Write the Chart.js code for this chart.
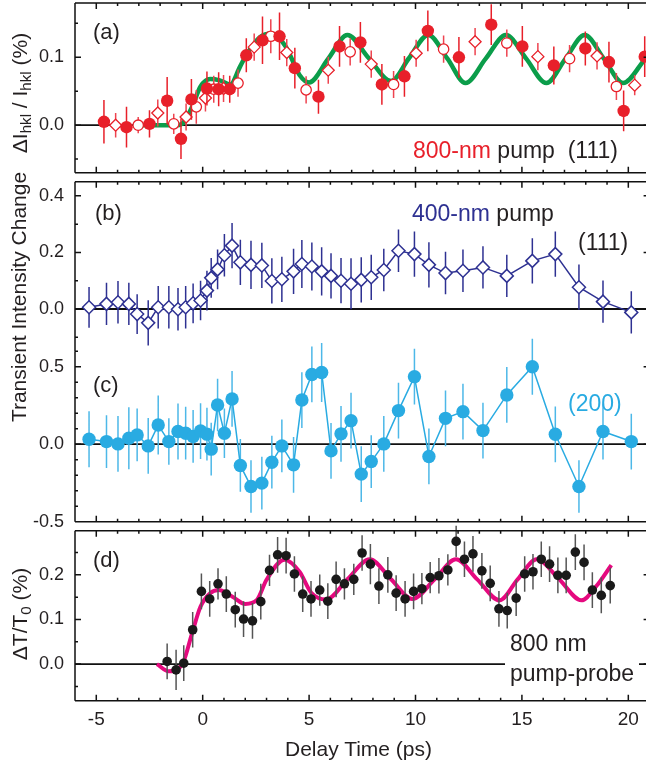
<!DOCTYPE html>
<html>
<head>
<meta charset="utf-8">
<script src="https://cdn.jsdelivr.net/npm/chart.js@4/dist/chart.umd.min.js"></script>
<style>
  html, body { margin: 0; padding: 0; background: #fff; overflow: hidden; }
  #wrap { position: relative; width: 646px; height: 766px; overflow: hidden; }
  canvas { position: absolute; left: 0; }
  .t { position: absolute; font-family: 'Liberation Sans', Arial, sans-serif; font-size: 23px;
       color: #231f20; white-space: nowrap; line-height: 1; transform: translateY(-50%); }
  .t.p { font-size: 22px; }
  .rot { position: absolute; font-family: 'Liberation Sans', Arial, sans-serif; font-size: 21px;
         color: #231f20; white-space: nowrap; line-height: 1; transform: translate(-50%, -50%) rotate(-90deg); }
  .rot sub { font-size: 0.72em; vertical-align: -0.3em; }
  .box { position: absolute; background: #fff; }
</style>
</head>
<body>
<div id="wrap">
  <canvas id="cA" width="650" height="180" style="top:0px"></canvas>
  <canvas id="cB" width="650" height="176" style="top:176px"></canvas>
  <canvas id="cD" width="650" height="242" style="top:524px"></canvas>
  <canvas id="cC" width="650" height="206" style="top:330px"></canvas>

  <div class="rot" style="left:21px; top:93px">ΔI<sub>hkl</sub> / I<sub>hkl</sub> (%)</div>
  <div class="rot" style="left:18px; top:297px">Transient Intensity Change</div>
  <div class="rot" style="left:21px; top:614px">ΔT/T<sub>0</sub> (%)</div>
  <div class="t" style="left:285px; top:748px; font-size:21px">Delay Time (ps)</div>

  <div class="t p" style="left:93px; top:32px">(a)</div>
  <div class="t" style="left:413px; top:150px"><span style="color:#e8202a">800-nm</span> pump&nbsp;&nbsp;(111)</div>
  <div class="t p" style="left:95px; top:213px">(b)</div>
  <div class="t" style="left:412px; top:213px"><span style="color:#2e3192">400-nm</span> pump</div>
  <div class="t" style="left:578px; top:242px">(111)</div>
  <div class="t p" style="left:93px; top:385px">(c)</div>
  <div class="t" style="left:568px; top:403px; color:#29abe2">(200)</div>
  <div class="t p" style="left:93px; top:560px">(d)</div>
  <div class="box" style="left:505px; top:630px; width:134px; height:58px"></div>
  <div class="t" style="left:510px; top:643px">800 nm</div>
  <div class="t" style="left:510px; top:673px">pump-probe</div>
</div>

<script>
// ---- panel (a): 800-nm pump, (111) ----
const aFillT = [-4.64, -3.58, -2.5, -1.67, -1.02, -0.53, 0.2, 0.75, 1.27, 2.05, 2.81, 3.61, 4.33, 5.44, 6.43, 7.41, 8.42, 9.48, 10.58, 12.04, 13.56, 15.02, 16.5, 17.98, 19.09, 19.78, 20.77];
const aFillV = [0.005, -0.003, 0.002, 0.036, -0.02, 0.038, 0.054, 0.053, 0.053, 0.103, 0.125, 0.131, 0.084, 0.042, 0.116, 0.122, 0.06, 0.072, 0.139, 0.1, 0.148, 0.116, 0.088, 0.113, 0.093, 0.021, 0.101];
const aFillE = [0.032, 0.03, 0.02, 0.035, 0.03, 0.03, 0.025, 0.025, 0.02, 0.025, 0.035, 0.035, 0.03, 0.025, 0.03, 0.03, 0.03, 0.03, 0.03, 0.03, 0.03, 0.03, 0.028, 0.025, 0.03, 0.03, 0.03];

const aOpenT = [-3.03, -1.36, -0.3, 0.52, 1.66, 3.2, 4.86, 6.93, 8.97, 11.32, 14.29, 17.24, 19.44];
const aOpenV = [0.0, 0.002, 0.027, 0.053, 0.062, 0.131, 0.052, 0.108, 0.06, 0.112, 0.121, 0.098, 0.057];
const aOpenE = [0.012, 0.015, 0.025, 0.02, 0.02, 0.025, 0.02, 0.02, 0.02, 0.02, 0.02, 0.02, 0.02];

const aDiaT = [-4.09, -2.11, -0.78, 0.13, 0.98, 2.42, 3.95, 5.9, 7.92, 10.03, 12.8, 15.75, 18.53, 20.3];
const aDiaV = [0.0, 0.018, 0.012, 0.04, 0.054, 0.115, 0.107, 0.081, 0.09, 0.106, 0.123, 0.101, 0.102, 0.059];
const aDiaE = [0.018, 0.02, 0.02, 0.02, 0.02, 0.02, 0.02, 0.02, 0.02, 0.02, 0.02, 0.02, 0.02, 0.015];

const aFitT = [-3.0, -1.2, -0.9, -0.5, -0.1, 0.35, 0.8, 1.3, 1.75, 2.1, 2.7, 3.25, 3.9, 4.55, 5.0, 5.9, 6.8, 7.8, 8.85, 9.7, 10.6, 11.5, 12.35, 13.3, 14.25, 15.2, 16.15, 17.05, 17.95, 18.85, 19.75, 20.8];
const aFitV = [0, 0, 0.004, 0.027, 0.057, 0.068, 0.066, 0.06, 0.086, 0.106, 0.13, 0.135, 0.116, 0.074, 0.063, 0.098, 0.133, 0.099, 0.065, 0.099, 0.133, 0.098, 0.062, 0.098, 0.133, 0.098, 0.062, 0.098, 0.133, 0.098, 0.062, 0.098];

// ---- panel (b): 400-nm pump, (111) ----
const bT = [-5.34, -4.52, -3.98, -3.47, -3.08, -2.56, -2.09, -1.59, -1.16, -0.8, -0.45, -0.1, 0.2, 0.4, 0.7, 1.02, 1.38, 1.77, 2.27, 2.78, 3.25, 3.72, 4.27, 4.66, 5.13, 5.59, 6.03, 6.5, 6.97, 7.45, 7.92, 8.51, 9.2, 9.95, 10.63, 11.41, 12.23, 13.17, 14.29, 15.49, 16.57, 17.68, 18.81, 20.14];
const bV = [0.006, 0.018, 0.024, 0.018, -0.018, -0.049, 0.006, 0.006, -0.001, 0.006, 0.02, 0.03, 0.065, 0.11, 0.14, 0.19, 0.224, 0.165, 0.156, 0.154, 0.099, 0.105, 0.133, 0.159, 0.15, 0.133, 0.117, 0.1, 0.089, 0.103, 0.112, 0.138, 0.206, 0.194, 0.156, 0.127, 0.135, 0.147, 0.117, 0.17, 0.194, 0.077, 0.026, -0.012];
const bE = [0.072, 0.075, 0.075, 0.075, 0.07, 0.08, 0.075, 0.075, 0.075, 0.075, 0.07, 0.07, 0.07, 0.07, 0.07, 0.075, 0.08, 0.08, 0.085, 0.08, 0.08, 0.08, 0.08, 0.085, 0.085, 0.085, 0.08, 0.08, 0.09, 0.08, 0.08, 0.075, 0.075, 0.08, 0.08, 0.075, 0.075, 0.075, 0.075, 0.08, 0.08, 0.08, 0.075, 0.075];

// ---- panel (c): (200) ----
const cT = bT;
const cV = [0.032, 0.017, 0.002, 0.039, 0.06, -0.011, 0.124, 0.017, 0.082, 0.071, 0.05, 0.085, 0.065, -0.032, 0.253, 0.071, 0.292, -0.137, -0.273, -0.251, -0.116, -0.011, -0.133, 0.285, 0.45, 0.463, -0.043, 0.067, 0.152, -0.193, -0.112, 0.002, 0.217, 0.436, -0.079, 0.167, 0.21, 0.088, 0.318, 0.5, 0.064, -0.273, 0.082, 0.017];
const cE = [0.18, 0.17, 0.18, 0.2, 0.17, 0.18, 0.19, 0.15, 0.18, 0.17, 0.17, 0.18, 0.17, 0.17, 0.17, 0.16, 0.18, 0.17, 0.17, 0.17, 0.17, 0.17, 0.18, 0.18, 0.18, 0.19, 0.18, 0.18, 0.18, 0.18, 0.17, 0.18, 0.18, 0.18, 0.18, 0.18, 0.18, 0.18, 0.18, 0.18, 0.18, 0.17, 0.18, 0.18];

// ---- panel (d): 800 nm pump-probe ----
const dT = [-1.67, -1.25, -0.89, -0.47, -0.06, 0.33, 0.72, 1.11, 1.53, 1.92, 2.34, 2.73, 3.14, 3.52, 3.92, 4.31, 4.7, 5.09, 5.5, 5.88, 6.27, 6.66, 7.1, 7.49, 7.88, 8.28, 8.7, 9.09, 9.51, 9.91, 10.3, 10.69, 11.1, 11.52, 11.91, 12.3, 12.7, 13.12, 13.51, 13.92, 14.31, 14.73, 15.13, 15.52, 15.91, 16.3, 16.69, 17.08, 17.51, 17.92, 18.31, 18.73, 19.15];
const dV = [0.006, -0.013, 0.002, 0.077, 0.163, 0.146, 0.18, 0.157, 0.122, 0.101, 0.097, 0.14, 0.21, 0.245, 0.243, 0.202, 0.157, 0.146, 0.166, 0.141, 0.19, 0.18, 0.19, 0.249, 0.224, 0.175, 0.2, 0.159, 0.146, 0.163, 0.169, 0.194, 0.198, 0.211, 0.275, 0.235, 0.247, 0.209, 0.181, 0.124, 0.12, 0.148, 0.202, 0.207, 0.235, 0.224, 0.199, 0.199, 0.251, 0.228, 0.166, 0.154, 0.176];
const dE = [0.04, 0.045, 0.04, 0.04, 0.04, 0.04, 0.035, 0.04, 0.04, 0.04, 0.04, 0.04, 0.035, 0.04, 0.04, 0.04, 0.04, 0.04, 0.035, 0.04, 0.04, 0.035, 0.035, 0.04, 0.045, 0.04, 0.04, 0.04, 0.04, 0.04, 0.035, 0.035, 0.04, 0.035, 0.035, 0.04, 0.04, 0.04, 0.04, 0.04, 0.04, 0.04, 0.04, 0.04, 0.04, 0.04, 0.04, 0.04, 0.04, 0.04, 0.04, 0.04, 0.04];
const dFitT = [-2.15, -1.6, -1.2, -0.9, -0.5, -0.1, 0.35, 0.75, 1.4, 2.0, 2.55, 3.0, 3.85, 4.55, 5.1, 5.8, 6.8, 7.85, 8.85, 9.85, 10.9, 11.9, 12.9, 13.95, 14.8, 15.7, 16.75, 17.8, 18.5, 19.2];
const dFitV = [0, -0.016, -0.012, 0.006, 0.069, 0.129, 0.159, 0.166, 0.151, 0.135, 0.144, 0.189, 0.234, 0.207, 0.16, 0.145, 0.19, 0.235, 0.19, 0.146, 0.19, 0.235, 0.19, 0.143, 0.19, 0.235, 0.19, 0.143, 0.175, 0.222];

const xTickLabels = [-5, 0, 5, 10, 15, 20];

const FONT = "'Liberation Sans', Arial, sans-serif";
const INK = '#231f20';
const pts = (xs, ys) => xs.map((x, i) => ({x, y: ys[i]}));

// error bars are drawn right before their own dataset
const errorBars = {
  id: 'errorBars',
  beforeDatasetDraw(chart, args) {
    const ds = chart.data.datasets[args.index];
    if (!ds.errors) return;
    const xs = chart.scales[args.meta.xAxisID], ys = chart.scales[args.meta.yAxisID];
    const ctx = chart.ctx;
    ctx.save();
    ctx.strokeStyle = ds.errorColor;
    ctx.lineWidth = ds.errorWidth || 1.5;
    ctx.beginPath();
    ds.data.forEach((p, i) => {
      const x = xs.getPixelForValue(p.x);
      ctx.moveTo(x, ys.getPixelForValue(p.y - ds.errors[i]));
      ctx.lineTo(x, ys.getPixelForValue(p.y + ds.errors[i]));
    });
    ctx.stroke();
    ctx.restore();
  }
};

// box, inward ticks, zero line
const frame = {
  id: 'frame',
  beforeDatasetsDraw(chart) {
    const {ctx, chartArea: a} = chart;
    const y0 = chart.scales.y.getPixelForValue(0);
    ctx.save();
    ctx.strokeStyle = '#111';
    ctx.lineWidth = 1.8;
    ctx.beginPath();
    ctx.moveTo(a.left, y0);
    ctx.lineTo(a.right, y0);
    ctx.stroke();
    ctx.restore();
  },
  afterDraw(chart, args, o) {
    const {ctx, chartArea: a} = chart;
    const xs = chart.scales.x, ys = chart.scales.y;
    ctx.save();
    ctx.strokeStyle = '#111';
    ctx.lineWidth = 1.5;
    ctx.beginPath();
    ctx.moveTo(a.left, a.top); ctx.lineTo(a.left, a.bottom);
    ctx.moveTo(a.right, a.top); ctx.lineTo(a.right, a.bottom);
    if (o.top) { ctx.moveTo(a.left, a.top); ctx.lineTo(a.right, a.top); }
    if (o.bottom) { ctx.moveTo(a.left, a.bottom); ctx.lineTo(a.right, a.bottom); }
    for (let t = -5; t <= 21; t++) {
      const x = xs.getPixelForValue(t);
      const len = t % 5 === 0 ? 6 : 3;
      if (o.top) { ctx.moveTo(x, a.top); ctx.lineTo(x, a.top + len); }
      if (o.bottom) { ctx.moveTo(x, a.bottom); ctx.lineTo(x, a.bottom - len); }
    }
    const n0 = Math.ceil(o.yFrom / o.yMinor - 1e-6), n1 = Math.floor(o.yTo / o.yMinor + 1e-6);
    for (let n = n0; n <= n1; n++) {
      const v = n * o.yMinor;
      const r = v / o.yMajor;
      const major = Math.abs(r - Math.round(r)) < 1e-6;
      const y = ys.getPixelForValue(v);
      ctx.moveTo(a.left, y); ctx.lineTo(a.left + (major ? 6 : 3), y);
      if (major) { ctx.moveTo(a.right, y); ctx.lineTo(a.right - 6, y); }
    }
    ctx.stroke();
    ctx.restore();
  }
};

function yAxis(min, max, step) {
  return {
    type: 'linear', min, max,
    grid: {display: false, drawTicks: false},
    border: {display: false},
    ticks: {
      stepSize: step, includeBounds: false, padding: 11, color: INK,
      font: {family: FONT, size: 18},
      callback: v => v.toFixed(1)
    },
    afterFit(s) { s.width = 75; s.paddingTop = 0; s.paddingBottom = 0; }
  };
}

function xAxis(show, height) {
  return {
    type: 'linear', min: -6, max: 21, display: show,
    grid: {display: false, drawTicks: false},
    border: {display: false},
    afterBuildTicks(s) { s.ticks = xTickLabels.map(v => ({value: v})); },
    ticks: {padding: 8, color: INK, font: {family: FONT, size: 19}, maxRotation: 0,
            callback: v => String(v)},
    afterFit(s) { if (height) s.height = height; s.paddingLeft = 0; s.paddingRight = 0; }
  };
}

function makePanel(id, datasets, y, frameOpts, padding, xHeight) {
  return new Chart(document.getElementById(id), {
    type: 'line',
    data: {datasets},
    options: {
      responsive: false, animation: false, devicePixelRatio: 1,
      layout: {padding, autoPadding: false},
      plugins: {legend: {display: false}, tooltip: {enabled: false}, frame: frameOpts},
      scales: {x: xAxis(!!xHeight, xHeight), y},
      elements: {line: {tension: 0}}
    },
    plugins: [errorBars, frame]
  });
}

const RED = '#e8202a', GREEN = '#0b9d4a', NAVY = '#2e3192', CYAN = '#29abe2', MAG = '#e5097f';

makePanel('cA', [
  {data: pts(aFitT, aFitV), borderColor: GREEN, borderWidth: 4.5, pointRadius: 0,
   cubicInterpolationMode: 'monotone', order: 5},
  {data: pts(aDiaT, aDiaV), errors: aDiaE, errorColor: '#ee4450', showLine: false,
   pointStyle: 'rectRot', pointRadius: 6, pointBackgroundColor: '#fff', pointBorderColor: RED,
   pointBorderWidth: 1.3, order: 3},
  {data: pts(aOpenT, aOpenV), errors: aOpenE, errorColor: '#ee4450', showLine: false,
   pointStyle: 'circle', pointRadius: 5.2, pointBackgroundColor: '#fff', pointBorderColor: RED,
   pointBorderWidth: 1.3, order: 2},
  {data: pts(aFillT, aFillV), errors: aFillE, errorColor: RED, showLine: false,
   pointStyle: 'circle', pointRadius: 6.2, pointBackgroundColor: RED, pointBorderColor: RED,
   pointBorderWidth: 0, order: 1}
], yAxis(-0.07, 0.18, 0.1), {top: true, bottom: true, yFrom: -0.07, yTo: 0.18, yMinor: 0.05, yMajor: 0.1},
  {top: 3, bottom: 7.3, left: 0, right: 0.4});

makePanel('cB', [
  {data: pts(bT, bV), errors: bE, errorColor: NAVY, borderColor: NAVY, borderWidth: 1.5,
   pointStyle: 'rectRot', pointRadius: 6.5, pointBackgroundColor: '#fff', pointBorderColor: NAVY,
   pointBorderWidth: 1.5, clip: false}
], yAxis(-0.151, 0.45, 0.2), {top: true, bottom: false, yFrom: -0.1, yTo: 0.45, yMinor: 0.1, yMajor: 0.2},
  {top: 5.7, bottom: 0.3, left: 0, right: 0.4});

makePanel('cC', [
  {data: pts(cT, cV), errors: cE, errorColor: '#4db8e8', borderColor: CYAN, borderWidth: 1.5,
   pointStyle: 'circle', pointRadius: 6.7, pointBackgroundColor: CYAN, pointBorderColor: CYAN,
   pointBorderWidth: 0, clip: false}
], yAxis(-0.5, 0.597, 0.5), {top: false, bottom: true, yFrom: -0.5, yTo: 0.6, yMinor: 0.1, yMajor: 0.5},
  {top: 21.7, bottom: 14.3, left: 0, right: 0.4});

makePanel('cD', [
  {data: pts(dFitT, dFitV), borderColor: MAG, borderWidth: 4, pointRadius: 0,
   cubicInterpolationMode: 'monotone', order: 5},
  {data: pts(dT, dV), errors: dE, errorColor: '#555', showLine: false,
   pointStyle: 'circle', pointRadius: 4.8, pointBackgroundColor: '#1a1a1a', pointBorderColor: '#1a1a1a',
   pointBorderWidth: 0, order: 1}
], yAxis(-0.082, 0.299, 0.1), {top: true, bottom: true, yFrom: -0.082, yTo: 0.299, yMinor: 0.05, yMajor: 0.1},
  {top: 6.7, bottom: 0, left: 0, right: 0.4}, 65.3);
</script>
</body>
</html>
